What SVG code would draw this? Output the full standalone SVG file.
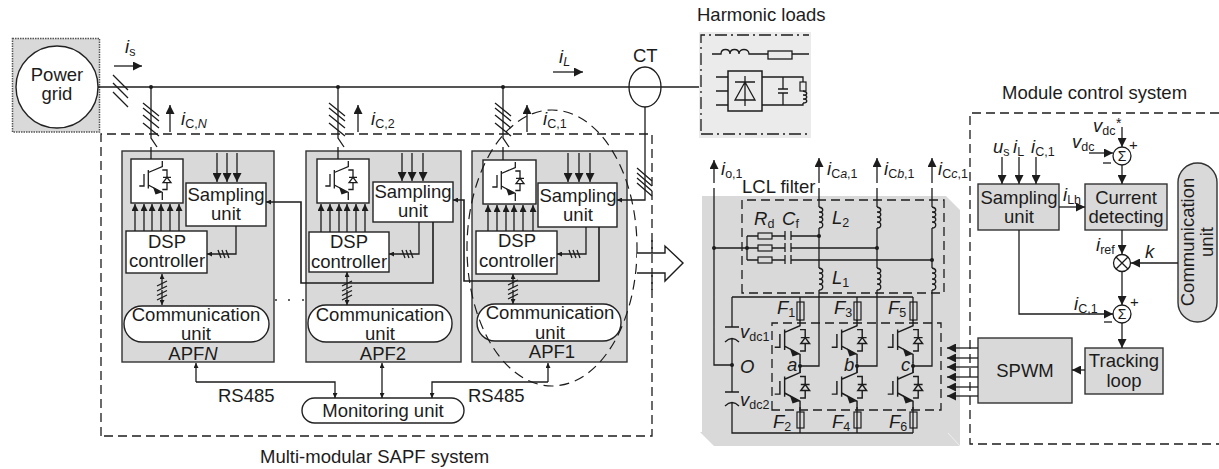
<svg xmlns="http://www.w3.org/2000/svg" width="1219" height="469" viewBox="0 0 1219 469">
<style>
text{font-family:"Liberation Sans",Arial,sans-serif;font-size:18.5px;fill:#1c1c1c}
.m{text-anchor:middle}
.i{font-style:italic}
.s{font-size:12.5px;font-style:normal}
.si{font-size:12.5px;font-style:italic}
.l{fill:none;stroke:#1c1c1c;stroke-width:1.3}
.h{fill:none;stroke:#1c1c1c;stroke-width:1.6}
.d{fill:none;stroke:#1c1c1c;stroke-width:1.3;stroke-dasharray:9 5}
.b{fill:#fff;stroke:#222;stroke-width:1.4}
.g{fill:#d9d9d9;stroke:#333;stroke-width:1.4}
.k{fill:#1c1c1c;stroke:none}
.a{marker-end:url(#big)}
.am{marker-end:url(#med)}
.as{marker-end:url(#sm)}
</style>
<defs>
<marker id="big" viewBox="0 0 9 9" refX="9" refY="4.5" markerWidth="9" markerHeight="9" orient="auto-start-reverse" markerUnits="userSpaceOnUse"><path d="M0 0L9 4.5L0 9z" fill="#1c1c1c"/></marker>
<marker id="med" viewBox="0 0 7 7" refX="7" refY="3.5" markerWidth="7" markerHeight="7" orient="auto-start-reverse" markerUnits="userSpaceOnUse"><path d="M0 0L7 3.5L0 7z" fill="#1c1c1c"/></marker>
<marker id="sm" viewBox="0 0 5 5" refX="5" refY="2.5" markerWidth="5" markerHeight="5" orient="auto-start-reverse" markerUnits="userSpaceOnUse"><path d="M0 0L5 2.5L0 5z" fill="#1c1c1c"/></marker>
<g id="igbt">
<path class="l" d="M8.3 27H13V15M17.3 11V29.5M17.3 13.5L31.3 7.5V2M17.3 26L31.3 33.5V41M31.3 11H36V18.3M36 23.7V30.5H31.3M32 18.3H40"/>
<path class="l" d="M36 18.3L32 23.7H40z"/>
<path class="k" d="M30.5 33.5L22 28L24.5 35.5z"/>
</g>
<path id="sl4" class="l" d="M0 0L16 13M0 5L16 18M0 12L16 25M0 20L16 33"/>
<path id="t3" class="l" d="M-4-4L-1 4M0-4L3 4M4-4L7 4"/>
<path id="t4" class="l" d="M-5 5L5 0M-5 10L5 5M-5 14.5L5 9.5M-5 19L5 14"/>
</defs>

<g id="power-grid">
<rect x="12.500" y="38.500" width="87" height="93.500" fill="#d9d9d9" stroke="#555" stroke-width="1.500" stroke-dasharray="1.500 1"/>
<circle cx="57" cy="87" r="41" class="b"/>
<text class="m" y="80.500"><tspan x="57">Power</tspan><tspan x="57" dy="19.500">grid</tspan></text>
</g>

<g id="harmonic-loads">
<rect x="699" y="32" width="112" height="106" fill="#ebebeb"/>
<path class="l" d="M701 131V35H809M701 134H809" stroke-dasharray="12 4 2 4"/>
<path class="l" d="M712 54H721C721 48 730 48 730 54C730 48 739 48 739 54C739 48 749 48 749 54H768M792 54H809"/>
<rect x="768" y="51" width="24" height="8" fill="none" stroke="#1c1c1c" stroke-width="1.300"/>
<rect x="728" y="71" width="34" height="40" fill="none" stroke="#1c1c1c" stroke-width="1.500"/>
<path class="l" d="M716 77H728M716 91H728M716 105H728M745 76V106M735 82H755M745 82L735 100H755z"/>
<path class="l" d="M762 77H803V82M762 105H803V103M783 77V89M778 89H788M778 93H788M783 93V105"/>
<rect x="800" y="82" width="6" height="9" fill="none" stroke="#1c1c1c" stroke-width="1.200"/>
<path class="l" d="M803 91C808 92 808 95 803 95C808 95 808 99 803 99C808 99 808 103 803 103"/>
<text x="697" y="21">Harmonic loads</text>
</g>

<g id="apfn">
<rect x="122" y="151" width="152" height="211" class="g"/>
<rect x="131" y="159" width="52" height="44" class="b"/><use href="#igbt" x="131" y="159"/>
<rect x="186" y="183" width="80" height="43" class="b"/>
<text class="m" y="201"><tspan x="226">Sampling</tspan><tspan x="226" dy="19">unit</tspan></text>
<rect x="126" y="231" width="81" height="42" class="b"/>
<text class="m" y="248"><tspan x="167">DSP</tspan><tspan x="167" dy="19">controller</tspan></text>
<rect x="124" y="306" width="145" height="36" rx="18" class="b"/>
<text class="m" y="320.500"><tspan x="196">Communication</tspan><tspan x="196" dy="19.500">unit</tspan></text>
<text class="m" x="193" y="359.500">APF<tspan class="i">N</tspan></text>
</g>

<g id="apf2">
<rect x="306" y="151" width="155" height="211" class="g"/>
<rect x="317" y="159" width="52" height="44" class="b"/><use href="#igbt" x="317" y="159"/>
<rect x="373" y="182" width="80" height="40" class="b"/>
<text class="m" y="198"><tspan x="413">Sampling</tspan><tspan x="413" dy="19">unit</tspan></text>
<rect x="309" y="232" width="80" height="40" class="b"/>
<text class="m" y="248"><tspan x="349">DSP</tspan><tspan x="349" dy="20">controller</tspan></text>
<rect x="308" y="305" width="144" height="37" rx="18" class="b"/>
<text class="m" y="320.500"><tspan x="380">Communication</tspan><tspan x="380" dy="19.500">unit</tspan></text>
<text class="m" x="383" y="359.500">APF2</text>
</g>

<g id="apf1">
<rect x="472" y="151" width="155" height="211" class="g"/>
<rect x="483" y="160" width="53" height="44" class="b"/><use href="#igbt" x="484" y="160"/>
<rect x="538" y="183" width="79" height="44" class="b"/>
<text class="m" y="202"><tspan x="578">Sampling</tspan><tspan x="578" dy="19">unit</tspan></text>
<rect x="476" y="231" width="81" height="43" class="b"/>
<text class="m" y="247"><tspan x="517">DSP</tspan><tspan x="517" dy="20">controller</tspan></text>
<rect x="477" y="304" width="144" height="37" rx="18" class="b"/>
<text class="m" y="319"><tspan x="550">Communication</tspan><tspan x="550" dy="19.500">unit</tspan></text>
<text class="m" x="552" y="358">APF1</text>
</g>

<g id="monitoring-unit">
<rect x="302" y="398" width="162" height="25" rx="12.500" class="b"/>
<text class="m" x="383" y="417">Monitoring unit</text>
</g>

<g id="converter">
<path fill="#d9d9d9" d="M702 196H946L960 210V446H714L700 432H702z"/>
<path d="M948 433L960 446" stroke="#efefef" fill="none"/>
<text x="742" y="193">LCL filter</text>
<text class="i" x="754" y="225">R<tspan class="s" dy="3">d</tspan></text>
<text class="i" x="782" y="225">C<tspan class="s" dy="3">f</tspan></text>
<text class="i" x="832" y="224">L<tspan class="s" dy="3">2</tspan></text>
<text class="i" x="832" y="284">L<tspan class="s" dy="3">1</tspan></text>
<text class="i" x="777" y="314">F<tspan class="s" dy="3">1</tspan></text>
<text class="i" x="834" y="314">F<tspan class="s" dy="3">3</tspan></text>
<text class="i" x="888" y="314">F<tspan class="s" dy="3">5</tspan></text>
<text class="i" x="773" y="428">F<tspan class="s" dy="3">2</tspan></text>
<text class="i" x="832" y="428">F<tspan class="s" dy="3">4</tspan></text>
<text class="i" x="889" y="428">F<tspan class="s" dy="3">6</tspan></text>
<text class="i" x="787" y="371">a</text><text class="i" x="844" y="371">b</text><text class="i" x="901" y="371">c</text>
<text class="i" x="740" y="373">O</text>
<text class="i" x="740" y="338">v<tspan class="s" dy="3">dc1</tspan></text>
<text class="i" x="740" y="406">v<tspan class="s" dy="3">dc2</tspan></text>
<text class="i" x="721" y="175">i<tspan class="s" dy="3">o,1</tspan></text>
<text class="i" x="827" y="175">i<tspan class="s" dy="3">C</tspan><tspan class="si">a</tspan><tspan class="s">,1</tspan></text>
<text class="i" x="884" y="175">i<tspan class="s" dy="3">C</tspan><tspan class="si">b</tspan><tspan class="s">,1</tspan></text>
<text class="i" x="938" y="175">i<tspan class="s" dy="3">C</tspan><tspan class="si">c</tspan><tspan class="s">,1</tspan></text>
<use href="#igbt" transform="translate(765.600 317.500) scale(1.100)"/>
<use href="#igbt" transform="translate(765.600 364.400) scale(1.100)"/>
<use href="#igbt" transform="translate(822.600 317.500) scale(1.100)"/>
<use href="#igbt" transform="translate(822.600 364.400) scale(1.100)"/>
<use href="#igbt" transform="translate(878.600 317.500) scale(1.100)"/>
<use href="#igbt" transform="translate(878.600 364.400) scale(1.100)"/>
<path class="l" d="M714 188V365H732M732 297V327M725 327H739M725 342Q732 335 739 342M732 338V392M725 392H739M725 406Q732 399 739 406M732 402V433H913M732 297H913"/>
<path class="l" d="M800 297V321M857 297V321M913 297V321M800 362V373M857 362V373M913 362V373M800 407V433M857 407V433M913 407V433"/>
<path class="l" d="M800 366H819V188M857 366H877V188M913 366H932V188"/>
<path class="l" d="M714 248H785M791 248H877M747 236V260M747 236H785M791 236H819M747 260H785M791 260H932M785 231V240M791 231V240M785 243V252M791 243V252M785 255V264M791 255V264"/>
<g fill="#d9d9d9" stroke="#1c1c1c" stroke-width="1.200">
<rect x="758" y="233" width="14" height="6"/><rect x="758" y="245" width="14" height="6"/><rect x="758" y="257" width="14" height="6"/>
<rect x="797" y="302" width="7" height="18"/><rect x="854" y="302" width="7" height="18"/><rect x="910" y="302" width="7" height="18"/>
<rect x="797" y="412" width="7" height="16"/><rect x="854" y="412" width="7" height="16"/><rect x="910" y="412" width="7" height="16"/>
</g>
<path class="l" d="M800 302V320M857 302V320M913 302V320M800 412V428M857 412V428M913 412V428"/>
<g fill="#d9d9d9">
<rect x="816" y="207" width="6" height="21"/><rect x="874" y="207" width="6" height="21"/><rect x="929" y="207" width="6" height="21"/>
<rect x="816" y="268" width="6" height="22"/><rect x="874" y="268" width="6" height="22"/><rect x="929" y="268" width="6" height="22"/>
</g>
<g id="coils" class="l">
<path class="l" d="M819 207C824 208 824 212 819 212C824 212 824 217 819 217C824 217 824 222 819 222C824 222 824 228 819 228"/>
<path class="l" d="M877 207C882 208 882 212 877 212C882 212 882 217 877 217C882 217 882 222 877 222C882 222 882 228 877 228"/>
<path class="l" d="M932 207C937 208 937 212 932 212C937 212 937 217 932 217C937 217 937 222 932 222C937 222 937 228 932 228"/>
<path class="l" d="M819 268C824 269 824 273 819 273C824 273 824 279 819 279C824 279 824 284 819 284C824 284 824 290 819 290"/>
<path class="l" d="M877 268C882 269 882 273 877 273C882 273 882 279 877 279C882 279 882 284 877 284C882 284 882 290 877 290"/>
<path class="l" d="M932 268C937 269 937 273 932 273C937 273 937 279 932 279C937 279 937 284 932 284C937 284 937 290 932 290"/>
</g>
<g class="k">
<circle cx="714" cy="248" r="2"/><circle cx="747" cy="248" r="2"/><circle cx="819" cy="236" r="2"/><circle cx="877" cy="248" r="2"/><circle cx="932" cy="260" r="2"/>
<circle cx="732" cy="365" r="2"/><circle cx="800" cy="366" r="2"/><circle cx="857" cy="366" r="2"/><circle cx="913" cy="366" r="2"/>
</g>
</g>

<g id="sampling-unit-control">
<rect x="978" y="184" width="81" height="46" class="g"/>
<text class="m" y="204"><tspan x="1019">Sampling</tspan><tspan x="1019" dy="19">unit</tspan></text>
</g>
<g id="current-detecting">
<rect x="1085" y="184" width="82" height="46" class="g"/>
<text class="m" y="204"><tspan x="1126">Current</tspan><tspan x="1126" dy="19">detecting</tspan></text>
</g>
<g id="sum-1">
<circle cx="1122" cy="156" r="9" fill="#fff" stroke="#1c1c1c" stroke-width="1.300"/>
<text class="m" x="1122" y="161" style="font-size:14px">Σ</text>
</g>
<g id="multiplier">
<circle cx="1122" cy="263" r="8.500" fill="#fff" stroke="#1c1c1c" stroke-width="1.300"/>
<path class="l" d="M1116 257L1128 269M1128 257L1116 269"/>
</g>
<g id="sum-2">
<circle cx="1122" cy="314" r="9" fill="#fff" stroke="#1c1c1c" stroke-width="1.300"/>
<text class="m" x="1122" y="319" style="font-size:14px">Σ</text>
</g>
<g id="communication-unit-control">
<rect x="1178" y="163" width="39" height="159" rx="19.500" class="g"/>
<text class="m" transform="rotate(-90 1194 242)" y="242"><tspan x="1194">Communication</tspan><tspan x="1194" dy="19">unit</tspan></text>
</g>
<g id="spwm">
<rect x="978" y="338" width="94" height="65" class="g"/>
<text class="m" x="1025" y="377">SPWM</text>
</g>
<g id="tracking-loop">
<rect x="1085" y="348" width="78" height="46" class="g"/>
<text class="m" y="367"><tspan x="1124">Tracking</tspan><tspan x="1124" dy="19.500">loop</tspan></text>
</g>

<g id="connectors">
<path class="h" d="M98 87H699"/>
<ellipse cx="645" cy="87" rx="16" ry="20" fill="none" stroke="#1c1c1c" stroke-width="1.300"/>
<path class="l" d="M113 75L128 90M113 83L128 98M113 92L128 107"/>
<g class="k"><circle cx="151" cy="87" r="2"/><circle cx="338" cy="87" r="2"/><circle cx="503" cy="87" r="2"/></g>
<path class="l" d="M151 87V138L157 147M151 147V159M338 87V138L344 147M338 147V159M503 87V138L509 147M503 147V160"/>
<use href="#sl4" x="143" y="103"/><use href="#sl4" x="329" y="103"/><use href="#sl4" x="495" y="103"/>
<path class="l a" d="M114 66H142"/><path class="l a" d="M553 72H583"/>
<path class="l a" d="M170 132V105"/><path class="l a" d="M358 132V105"/><path class="l a" d="M527 132V105"/>
<path class="l am" d="M135 231V204"/><path class="l am" d="M144 231V204"/><path class="l am" d="M152 231V204"/><path class="l am" d="M161 231V204"/><path class="l am" d="M170 231V204"/><path class="l am" d="M179 231V204"/>
<path class="l am" d="M321 232V204"/><path class="l am" d="M330 232V204"/><path class="l am" d="M339 232V204"/><path class="l am" d="M347 232V204"/><path class="l am" d="M356 232V204"/><path class="l am" d="M365 232V204"/>
<path class="l am" d="M488 231V205"/><path class="l am" d="M497 231V205"/><path class="l am" d="M506 231V205"/><path class="l am" d="M514 231V205"/><path class="l am" d="M523 231V205"/><path class="l am" d="M533 231V205"/>
<path class="l a" d="M217 153V182"/><path class="l a" d="M227 153V182"/><path class="l a" d="M237 153V182"/>
<path class="l a" d="M402 153V181"/><path class="l a" d="M412 153V181"/><path class="l a" d="M423 153V181"/>
<path class="l a" d="M568 153V182"/><path class="l a" d="M579 153V182"/><path class="l a" d="M590 153V182"/>
<path class="l as" d="M236 226V254H207"/><path class="l as" d="M419 222V254H389"/><path class="l as" d="M586 227V254H557"/>
<use href="#t3" x="222" y="254"/><use href="#t3" x="406" y="254"/><use href="#t3" x="573" y="254"/>
<path class="h as" d="M433 222V283H301V202H266"/>
<path class="h as" d="M599 227V281H464V200H453"/>
<path class="l as" d="M162 288V274" /><path class="l as" d="M162 290V305"/>
<path class="l as" d="M347 288V272"/><path class="l as" d="M347 290V305"/>
<path class="l as" d="M513 288V274"/><path class="l as" d="M513 290V304"/>
<use href="#t4" x="162" y="281"/><use href="#t4" x="347" y="281"/><use href="#t4" x="513" y="280"/>
<path class="l as" d="M196 382V363"/><path class="l as" d="M196 382H335V398"/>
<path class="l as" d="M382 380V363"/><path class="l as" d="M382 380V398"/>
<path class="l as" d="M548 382V363"/><path class="l as" d="M548 382H432V398"/>
<path class="l as" d="M645 107V200H617"/>
<path class="l" d="M637 168L652 181M637 173L652 186M637 178L652 191M637 183L652 196"/>
<path class="d" d="M101 436V134H652V436z"/>
<ellipse cx="552" cy="248" rx="85" ry="138" fill="none" stroke="#1c1c1c" stroke-width="1.200" stroke-dasharray="10 6"/>
<path fill="#fff" stroke="#1c1c1c" stroke-width="1.400" d="M637 253H665V246L683 263L665 281V273H637"/>
<path class="d" d="M652 240V290"/>
<path class="d" d="M742 293V200H944V293z"/>
<path class="d" d="M772 410V323H941V410z"/>
<path class="l a" d="M714 183V160"/><path class="l a" d="M819 183V158"/><path class="l a" d="M877 183V158"/><path class="l a" d="M932 183V158"/>
<path class="d" d="M1219 113H970V444H1219"/>
<path class="l a" d="M978 348H947"/><path class="l a" d="M978 358H947"/><path class="l a" d="M978 367H947"/><path class="l a" d="M978 377H947"/><path class="l a" d="M978 387H947"/><path class="l a" d="M978 396H947"/>
<path class="l a" d="M1085 370H1072"/>
<path class="l a" d="M1002 157V184"/><path class="l a" d="M1019 157V184"/><path class="l a" d="M1036 157V184"/>
<path class="l a" d="M1059 207H1085"/>
<path class="l a" d="M1122 127V147"/><path class="l a" d="M1089 153H1113"/>
<path class="l a" d="M1122 165V184"/><path class="l a" d="M1122 230V254"/><path class="l a" d="M1178 263H1131"/><path class="l a" d="M1122 272V305"/>
<path class="l a" d="M1019 230V314H1113"/><path class="l a" d="M1122 323V348"/>
</g>

<g id="labels">
<text class="i" x="125" y="53">i<tspan class="s" dy="3">s</tspan></text>
<text class="i" x="559" y="63">i<tspan class="si" dy="3">L</tspan></text>
<text x="633" y="62">CT</text>
<text class="i" x="181" y="125">i<tspan class="s" dy="3">C,</tspan><tspan class="si">N</tspan></text>
<text class="i" x="371" y="125">i<tspan class="s" dy="3">C,2</tspan></text>
<text class="i" x="543" y="125">i<tspan class="s" dy="3">C,1</tspan></text>
<text x="218" y="402">RS485</text><text x="468" y="402">RS485</text>
<text x="260" y="463">Multi-modular SAPF system</text>
<g class="k"><circle cx="276" cy="300" r="0.900"/><circle cx="289" cy="300" r="0.900"/><circle cx="303" cy="300" r="0.900"/></g>
<text x="1002" y="99">Module control system</text>
<text class="i" x="993" y="153">u<tspan class="s" dy="3">s</tspan></text>
<text class="i" x="1013" y="153">i<tspan class="s" dy="3">L</tspan></text>
<text class="i" x="1031" y="153">i<tspan class="s" dy="3">C,1</tspan></text>
<text class="i" x="1063" y="201">i<tspan class="s" dy="3">Lh</tspan></text>
<text class="i" x="1093" y="132">v<tspan class="s" dy="3">dc</tspan></text>
<text x="1116" y="128" style="font-size:14px">*</text>
<text x="1129" y="150" style="font-size:15px">+</text>
<text class="i" x="1072" y="148">v<tspan class="s" dy="3">dc</tspan></text>
<path class="l" d="M1103 163H1111"/>
<text class="i" x="1096" y="251">i<tspan class="s" dy="3">ref</tspan></text>
<text class="i" x="1145" y="258">k</text>
<text class="i" x="1074" y="310">i<tspan class="s" dy="3">C,1</tspan></text>
<text x="1130" y="307" style="font-size:15px">+</text>
<path class="l" d="M1104 322H1112"/>
</g>
</svg>
